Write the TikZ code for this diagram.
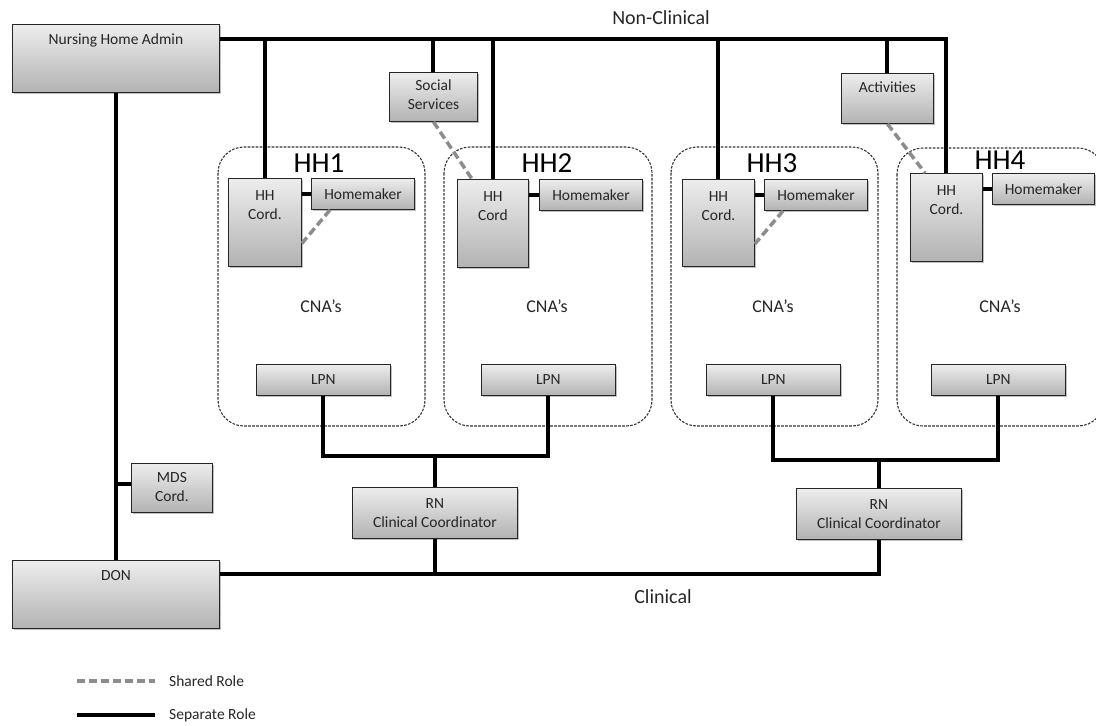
\documentclass[tikz,border=0pt]{standalone}
\usepackage{fontspec}
\setmainfont{Carlito}
\usetikzlibrary{shadows}
\begin{document}
\begin{tikzpicture}[x=1pt,y=-1pt,
  box/.style={draw=black!85, line width=0.9pt, top color=black!7, bottom color=black!30,
    drop shadow={shadow xshift=1.5pt, shadow yshift=-1.5pt, opacity=0.25, fill=black},
    inner sep=0pt, anchor=north west},
  txt/.style={inner sep=0pt, text=black!85, font=\fontsize{15.5}{19}\selectfont, align=center},
  hhlbl/.style={inner sep=0pt, anchor=base, text=black, font=\fontsize{29}{30}\selectfont},
  cna/.style={inner sep=0pt, anchor=base, text=black!85, font=\fontsize{18}{20}\selectfont},
  bigtxt/.style={inner sep=0pt, text=black!85, font=\fontsize{20}{22}\selectfont},
  home/.style={draw=black!80, line width=1.1pt, dash pattern=on 2.6pt off 1.4pt, rounded corners=26pt},
  sep/.style={line width=4pt, draw=black},
  shared/.style={line width=3.5pt, draw=black!45, dash pattern=on 8pt off 4pt},
]
\useasboundingbox (0,0) rectangle (1096,726);

% household containers
\draw[home] (218,147) rectangle (425,426);
\draw[home] (444,147) rectangle (652,426);
\draw[home] (671,147) rectangle (878,426);
\draw[home] (897,148) rectangle (1104,426);

% role boxes
\node[box, minimum width=207pt, minimum height=68pt] (admin) at (12,24) {};
\node[box, minimum width=207pt, minimum height=68pt] (don) at (12,560) {};
\node[box, minimum width=81pt, minimum height=49pt] (mds) at (131,463) {};
\node[box, minimum width=88pt, minimum height=49pt] (social) at (389,72) {};
\node[box, minimum width=92pt, minimum height=50pt] (activ) at (841,73) {};
\node[box, minimum width=165pt, minimum height=51pt] (rn1) at (352,487) {};
\node[box, minimum width=165pt, minimum height=51pt] (rn2) at (796,488) {};

\node[box, minimum width=73pt, minimum height=88pt] (cord1) at (228,178) {};
\node[box, minimum width=103pt, minimum height=31pt] (home1) at (311,178) {};
\node[box, minimum width=71pt, minimum height=88pt] (cord2) at (457,179) {};
\node[box, minimum width=103pt, minimum height=31pt] (home2) at (539,179) {};
\node[box, minimum width=72pt, minimum height=87pt] (cord3) at (682,179) {};
\node[box, minimum width=103pt, minimum height=31pt] (home3) at (764,179) {};
\node[box, minimum width=72pt, minimum height=88pt] (cord4) at (910,173) {};
\node[box, minimum width=102pt, minimum height=31pt] (home4) at (992,173) {};

\node[box, minimum width=134pt, minimum height=31pt] (lpn1) at (256,364) {};
\node[box, minimum width=134pt, minimum height=31pt] (lpn2) at (481,364) {};
\node[box, minimum width=134pt, minimum height=31pt] (lpn3) at (706,364) {};
\node[box, minimum width=134pt, minimum height=31pt] (lpn4) at (931,364) {};

% box texts
\node[txt, anchor=base] (tadmin) at ([yshift=-20pt]admin.north) {Nursing Home Admin};
\node[txt, anchor=base] (tdon) at ([yshift=-20pt]don.north) {DON};
\node[txt, anchor=north] (tmds) at ([yshift=-9pt]mds.north) {MDS\\Cord.};
\node[txt, anchor=north] (tsocial) at ([yshift=-8pt]social.north) {Social\\Services};
\node[txt, anchor=north] (tactiv) at ([yshift=-9pt]activ.north) {Activities};
\node[txt, anchor=north] (trn1) at ([yshift=-11pt]rn1.north) {RN\\Clinical Coordinator};
\node[txt, anchor=north] (trn2) at ([yshift=-11pt]rn2.north) {RN\\Clinical Coordinator};
\node[txt, anchor=north] (tcord1) at ([yshift=-12pt]cord1.north) {HH\\Cord.};
\node[txt, anchor=north] (tcord2) at ([yshift=-12pt]cord2.north) {HH\\Cord};
\node[txt, anchor=north] (tcord3) at ([yshift=-12pt]cord3.north) {HH\\Cord.};
\node[txt, anchor=north] (tcord4) at ([yshift=-12pt]cord4.north) {HH\\Cord.};
\node[txt] (thome1) at (home1.center) {Homemaker};
\node[txt] (thome2) at (home2.center) {Homemaker};
\node[txt] (thome3) at (home3.center) {Homemaker};
\node[txt] (thome4) at (home4.center) {Homemaker};
\node[txt] (tlpn1) at (lpn1.center) {LPN};
\node[txt] (tlpn2) at (lpn2.center) {LPN};
\node[txt] (tlpn3) at (lpn3.center) {LPN};
\node[txt] (tlpn4) at (lpn4.center) {LPN};

% household labels
\node[hhlbl] (hh1) at (319,172) {HH1};
\node[hhlbl] (hh2) at (547,172) {HH2};
\node[hhlbl] (hh3) at (772,172) {HH3};
\node[hhlbl] (hh4) at (1000,169) {HH4};
\node[cna] (cna1) at (321,312) {CNA’s};
\node[cna] (cna2) at (547,312) {CNA’s};
\node[cna] (cna3) at (773,312) {CNA’s};
\node[cna] (cna4) at (1000,312) {CNA’s};

% non-clinical line
\draw[sep] ([yshift=-15pt]admin.north east) coordinate (bus) -| (cord4.north);
\foreach \n in {cord1,cord2,cord3,social,activ}
  \draw[sep] (\n.north) -- (\n.north |- bus);
\node[bigtxt] (nonclin) at (661,18) {Non-Clinical};

% admin to DON, MDS
\draw[sep] (admin.south) -- (don.north);
\draw[sep] ([yshift=4pt]mds.west) -- ([yshift=4pt]mds.west -| admin.south);

% clinical line
\draw[sep] ([yshift=-14pt]don.north east) coordinate (cbus) -| (rn2.south);
\draw[sep] (rn1.south) -- (rn1.south |- cbus);
\node[bigtxt] (clin) at (663,597) {Clinical};

% LPN to RN
\coordinate (j1) at ([yshift=31pt]rn1.north);
\coordinate (j2) at ([yshift=28pt]rn2.north);
\draw[sep] (lpn1.south) |- (j1) -| (lpn2.south);
\draw[sep] (j1) -- (rn1.north);
\draw[sep] (lpn3.south) |- (j2) -| (lpn4.south);
\draw[sep] (j2) -- (rn2.north);

% coordinator to homemaker
\foreach \i in {1,2,3,4}
  \draw[line width=4pt] (home\i.west) -- (home\i.west -| cord\i.east);

% shared roles
\draw[shared] (social.south) -- ([xshift=15pt]cord2.north west);
\draw[shared] (activ.south) -- ([xshift=15pt]cord4.north west);
\draw[shared] ([xshift=19pt]home1.south west) -- ([yshift=-21pt]cord1.east);
\draw[shared] ([xshift=19pt]home3.south west) -- ([yshift=-21pt]cord3.east);

% legend
\coordinate (la) at (77,681);
\coordinate (lb) at (155,681);
\coordinate (lc) at (77,715);
\coordinate (ld) at (155,715);
\draw[shared] (la) -- (lb);
\draw[sep] (lc) -- (ld);
\node[txt, anchor=west] (lshared) at (169,681) {Shared Role};
\node[txt, anchor=west] (lsep) at (169,715) {Separate Role};
\end{tikzpicture}
\end{document}
